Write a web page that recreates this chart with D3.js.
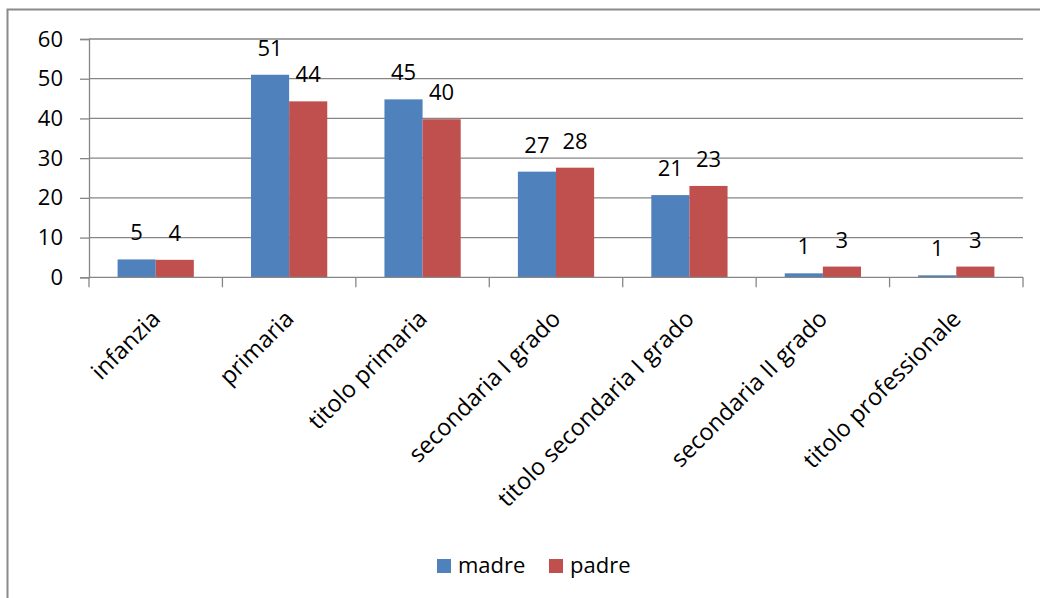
<!DOCTYPE html>
<html>
<head>
<meta charset="utf-8">
<script src="https://cdn.jsdelivr.net/npm/d3@7"></script>
<style>
  html, body { margin: 0; padding: 0; background: #fff; overflow: hidden; }
  svg { display: block; }
  text { font-family: "Open Sans", "Noto Sans", sans-serif; fill: #000; }
</style>
</head>
<body>
<svg id="chart" width="1040" height="598"></svg>
<script>
const categories = ["infanzia", "primaria", "titolo primaria", "secondaria I grado", "titolo secondaria I grado", "secondaria II grado", "titolo professionale"];
const seriesNames = ["madre", "padre"];
const madre = [4.5, 51.0, 44.8, 26.6, 20.7, 1.0, 0.5];
const padre = [4.4, 44.3, 39.8, 27.6, 23.0, 2.7, 2.7];
const yTicks = [0, 10, 20, 30, 40, 50, 60];
const colors = { madre: "#4F81BD", padre: "#C0504D" };

const svg = d3.select("#chart");

// outer chart border
svg.append("rect")
  .attr("x", 7.5).attr("y", 9.5)
  .attr("width", 1100).attr("height", 700)
  .attr("fill", "none").attr("stroke", "#8a8a8a").attr("stroke-width", 2);

const plot = { left: 89, right: 1023, top: 39, bottom: 277.3 };

const x = d3.scaleBand().domain(categories).range([plot.left, plot.right]).padding(0);
const x1 = d3.scaleBand().domain(seriesNames).range([0, x.bandwidth()]).paddingInner(0).paddingOuter(0.75);
const y = d3.scaleLinear().domain([0, 60]).range([plot.bottom, plot.top]);

// gridlines + y ticks
const yAxis = d3.axisLeft(y).tickValues(yTicks).tickSize(9).tickPadding(17).tickFormat(d3.format("d"));
const gy = svg.append("g").attr("transform", `translate(${plot.left},0)`).call(yAxis);
gy.select(".domain").attr("stroke", "#868686").attr("stroke-width", 1.3);
gy.selectAll(".tick line").attr("stroke", "#868686").attr("stroke-width", 1.3);
gy.selectAll(".tick text").attr("font-size", 22).attr("font-family", "Open Sans").attr("fill", "#000");

svg.append("g").selectAll("line").data(yTicks.filter(d => d > 0)).join("line")
  .attr("x1", plot.left).attr("x2", plot.right)
  .attr("y1", d => y(d)).attr("y2", d => y(d))
  .attr("stroke", "#868686").attr("stroke-width", 1.3);

// bars
const data = categories.map((c, i) => ({ cat: c, madre: madre[i], padre: padre[i] }));
const groups = svg.append("g").selectAll("g").data(data).join("g")
  .attr("transform", d => `translate(${x(d.cat)},0)`);

groups.selectAll("rect").data(d => seriesNames.map(s => ({ s, v: d[s] }))).join("rect")
  .attr("x", d => x1(d.s)).attr("width", x1.bandwidth())
  .attr("y", d => y(d.v)).attr("height", d => y(0) - y(d.v))
  .attr("fill", d => colors[d.s]);

groups.selectAll("text.val").data(d => seriesNames.map(s => ({ s, v: d[s] }))).join("text")
  .attr("class", "val")
  .attr("x", d => x1(d.s) + x1.bandwidth() / 2)
  .attr("y", d => y(d.v) - 19)
  .attr("text-anchor", "middle")
  .attr("font-size", 22)
  .text(d => d3.format(".0f")(Math.round(d.v + 1e-9)));

// x axis
const xAxisLine = svg.append("g");
xAxisLine.append("line")
  .attr("x1", plot.left).attr("x2", plot.right)
  .attr("y1", y(0)).attr("y2", y(0))
  .attr("stroke", "#868686").attr("stroke-width", 1.3);
const boundaries = categories.map(c => x(c)).concat([plot.right]);
xAxisLine.selectAll("line.tick").data(boundaries).join("line")
  .attr("class", "tick")
  .attr("x1", d => d).attr("x2", d => d)
  .attr("y1", y(0)).attr("y2", y(0) + 10)
  .attr("stroke", "#868686").attr("stroke-width", 1.3);

svg.append("g").selectAll("text").data(categories).join("text")
  .attr("transform", d => `translate(${x(d) + x.bandwidth() / 2 + 6},${plot.bottom + 43}) rotate(-45)`)
  .attr("text-anchor", "end")
  .attr("font-size", 23.5)
  .text(d => d);

// legend
const legend = svg.append("g");
const legendItems = [{ s: "madre", x: 437 }, { s: "padre", x: 549 }];
legendItems.forEach(it => {
  legend.append("rect").attr("x", it.x).attr("y", 559).attr("width", 14).attr("height", 14).attr("fill", colors[it.s]);
  legend.append("text").attr("x", it.x + 21).attr("y", 573).attr("font-size", 22).text(it.s);
});
</script>
</body>
</html>
